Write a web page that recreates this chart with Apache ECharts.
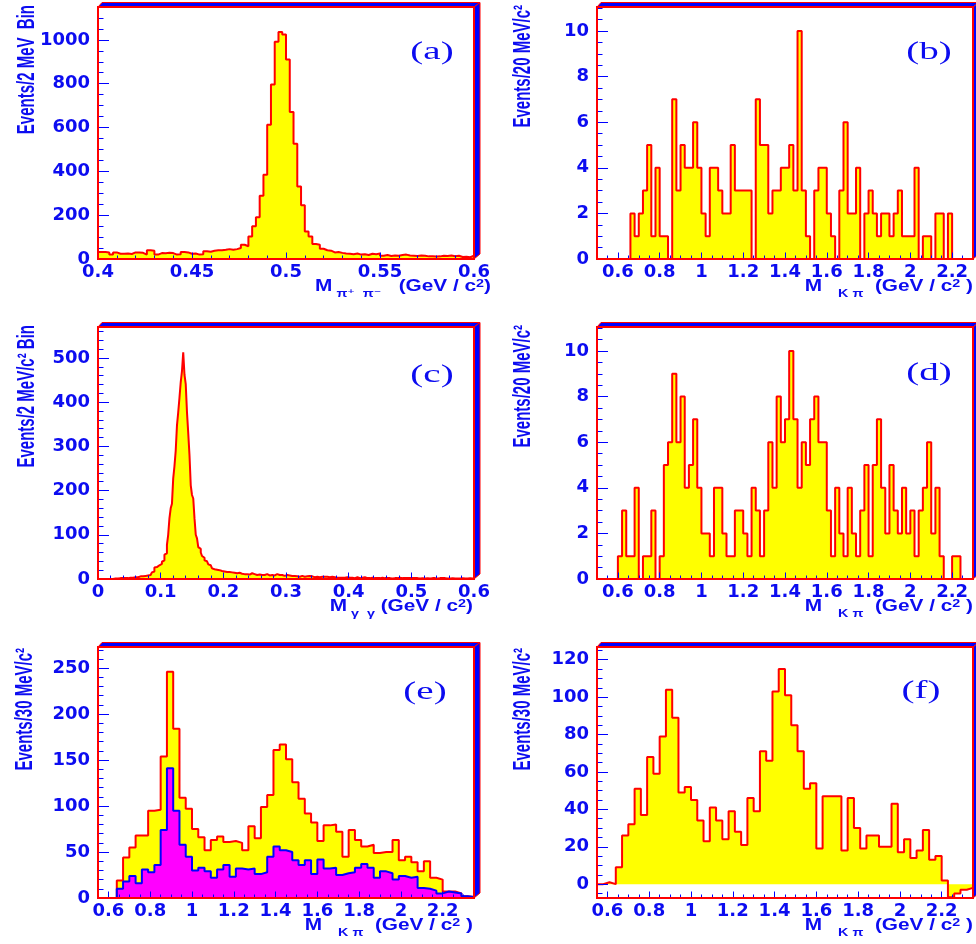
<!DOCTYPE html>
<html>
<head>
<meta charset="utf-8">
<title>Invariant mass distributions</title>
<script src="https://cdn.jsdelivr.net/npm/echarts@6.0.0/dist/echarts.min.js"></script>
<style>
html,body{margin:0;padding:0;background:#ffffff;}
#chart{width:976px;height:944px;}
</style>
</head>
<body>
<div id="chart"></div>
<script>
// ---------------- data ----------------
// (a) M(pi+ pi-), 2 MeV bins
const ksBinStart = 0.400, ksBinWidth = 0.002;
const ksCounts = [
  32,32,30,20,30,24,24,25,23,30,
  30,28,20,40,38,20,27,26,28,27,
  20,22,32,30,24,25,20,22,35,33,
  38,40,40,42,45,42,45,50,65,58,
  103,149,190,289,385,613,796,991,1036,1024,
  910,671,526,331,245,126,103,68,65,47,
  40,38,30,32,28,25,24,22,25,20,
  22,18,24,22,25,15,18,14,16,15,
  18,20,16,15,14,16,15,12,13,11,
  12,15,14,16,13,15,9,10,8,15
];
// (c) M(gamma gamma), 2 MeV bins
const pi0BinStart = 0.000, pi0BinWidth = 0.002;
const pi0Counts = [
  0,0,0,0,0,0,0,0,0,0,
  1,0,1,1,1,1,1,2,1,2,
  2,2,3,2,3,3,4,3,4,4,
  5,4,5,6,5,6,6,7,7,8,
  9,9,10,15,17,26,27,29,31,32,
  34,39,42,55,58,77,100,137,160,170,
  227,255,290,347,377,410,445,470,513,462,
  441,377,330,280,212,190,182,137,100,92,
  72,68,60,52,48,42,40,37,33,31,
  27,24,22,22,21,20,20,19,18,19,
  17,17,16,15,16,14,15,13,14,15,
  13,12,14,13,12,13,11,12,11,12,
  10,11,13,10,11,10,9,11,10,12,
  9,10,9,10,11,9,8,10,9,9,
  8,10,11,8,9,7,9,8,7,8,
  9,7,8,6,7,8,7,7,6,7,
  5,6,7,6,5,6,6,5,7,5,
  6,5,4,6,5,5,4,6,5,4,
  5,4,5,5,4,3,5,4,4,4,
  3,4,3,5,3,4,3,3,4,2,
  3,4,3,3,2,3,4,3,2,3,
  3,2,4,3,2,3,2,3,3,2,
  2,3,2,3,2,2,3,2,2,1,
  2,3,2,2,1,2,2,3,2,2,
  3,2,2,3,2,1,2,3,2,2,
  2,1,2,3,2,2,1,2,2,2,
  1,2,2,3,1,2,2,1,2,2,
  1,2,2,1,2,1,2,2,1,2,
  1,1,2,2,1,2,1,2,1,1,
  2,1,1,2,1,1,2,1,1,1
];
// (b) M(K pi), 20 MeV bins
const kpiBinWidth20 = 0.02;
const kpiBStart = 0.66;
const kpiBCounts = [
  2,1,2,3,5,1,4,1,1,0,
  7,3,5,4,4,6,4,2,1,4,
  4,3,2,2,5,3,3,3,3,0,
  7,5,5,2,3,3,4,4,5,3,
  10,3,1,0,3,4,4,2,1,0,
  3,6,2,2,4,0,2,3,2,1,
  2,2,1,2,3,1,1,1,4,0,
  1,1,0,2,2,0,2
];
// (d) M(K pi), 20 MeV bins
const kpiDStart = 0.60;
const kpiDCounts = [
  1,3,1,1,4,0,1,1,3,0,
  1,5,6,9,6,8,4,5,7,4,
  2,2,1,4,4,2,1,1,3,3,
  2,1,4,3,1,3,6,4,8,6,
  7,10,7,4,6,5,7,8,6,6,
  3,1,4,2,1,4,2,1,3,5,
  1,5,7,4,2,5,3,2,4,2,
  3,1,3,4,6,2,4,1,0,0,
  1,1
];
// (e) M(K pi), 30 MeV bins: total (yellow) and second sample (magenta)
const kpiBinWidth30 = 0.03;
const kpiEStart = 0.64;
const kpiETotal = [
  19,44,55,68,68,95,96,154,246,184,
  109,97,75,66,52,63,67,61,62,60,
  52,78,65,99,112,161,167,151,126,108,
  92,82,62,79,80,72,45,74,63,56,
  58,49,50,50,63,41,45,39,29,40,
  22,20,7,7,5,2,1
];
const kpiEOther = [
  10,18,24,16,31,28,36,74,141,95,
  58,45,30,33,29,22,31,36,23,32,
  31,32,26,28,45,56,52,50,41,36,
  41,26,42,32,33,25,27,28,33,37,
  33,22,29,27,20,24,22,23,11,10,
  8,5,7,6,5,2,1
];
// (f) M(K pi), 30 MeV bins (background subtracted)
const kpiFStart = 0.55;
const kpiFCounts = [
  0,1,0,9,26,32,51,37,68,59,
  79,104,89,49,52,45,34,23,41,34,
  24,39,28,21,46,39,71,66,103,115,
  101,85,71,51,54,19,47,47,47,18,
  46,30,19,26,26,20,20,43,17,24,
  14,18,29,13,15,2,-7,-5,-3,-2
];

// tick labels
const xTicksKs  = [0.4, 0.45, 0.5, 0.55, 0.6];
const yTicksKs  = [0, 200, 400, 600, 800, 1000];
const xTicksPi0 = [0, 0.1, 0.2, 0.3, 0.4, 0.5, 0.6];
const yTicksPi0 = [0, 100, 200, 300, 400, 500];
const xTicksKpi = [0.6, 0.8, 1, 1.2, 1.4, 1.6, 1.8, 2, 2.2];
const yTicks20  = [0, 2, 4, 6, 8, 10];
const yTicksE   = [0, 50, 100, 150, 200, 250];
const yTicksF   = [0, 20, 40, 60, 80, 100, 120];

// ---------------- styles ----------------
const RED = '#ff0000', YELLOW = '#ffff00', MAGENTA = '#ff00ff';
const FRAME_BLUE = '#0000ff', TICK = '#0000ff', TEXT = '#0c0cf0';
const SANS = '"Liberation Sans", "DejaVu Sans", sans-serif';

const kpiTitle = '{m|M}{s|    K π}{u|  (GeV / c}{p|2}{u| )}';

const panels = [
  {left: 98, top: 7, width: 376, height: 252, xRange: [0.4, 0.6], yRange: [0, 1150],
   xTicks: xTicksKs, yTicks: yTicksKs, xMinorStep: 0.01, yMinorStep: 50,
   hists: [{start: ksBinStart, width: ksBinWidth, counts: ksCounts, line: RED, fill: YELLOW}],
   yTitle: 'Events/2 MeV  Bin', yTitleAt: [27, 5],
   xTitle: '{m|M}{s| π⁺  π⁻}{u|   (GeV / c}{p|2}{u|)}', xTitleRight: 491,
   label: '(a)', labelAt: [432, 52]},
  {left: 597, top: 7, width: 376, height: 252, xRange: [0.5, 2.3], yRange: [0, 11.05],
   xTicks: xTicksKpi, yTicks: yTicks20, xMinorStep: 0.05, yMinorStep: 0.5,
   hists: [{start: kpiBStart, width: kpiBinWidth20, counts: kpiBCounts, line: RED, fill: YELLOW}],
   yTitle: 'Events/20 MeV/c²', yTitleAt: [523, 5],
   xTitle: kpiTitle, xTitleRight: 973,
   label: '(b)', labelAt: [929, 52]},
  {left: 98, top: 327, width: 376, height: 252, xRange: [0, 0.6], yRange: [0, 570],
   xTicks: xTicksPi0, yTicks: yTicksPi0, xMinorStep: 0.02, yMinorStep: 20,
   hists: [{start: pi0BinStart, width: pi0BinWidth, counts: pi0Counts, line: RED, fill: YELLOW}],
   yTitle: 'Events/2 MeV/c² Bin', yTitleAt: [27, 325],
   xTitle: '{m|M}{s| γ  γ}{u| (GeV / c}{p|2}{u|)}', xTitleRight: 473,
   label: '(c)', labelAt: [432, 375]},
  {left: 597, top: 327, width: 376, height: 252, xRange: [0.5, 2.3], yRange: [0, 11.05],
   xTicks: xTicksKpi, yTicks: yTicks20, xMinorStep: 0.05, yMinorStep: 0.5,
   hists: [{start: kpiDStart, width: kpiBinWidth20, counts: kpiDCounts, line: RED, fill: YELLOW}],
   yTitle: 'Events/20 MeV/c²', yTitleAt: [523, 325],
   xTitle: kpiTitle, xTitleRight: 973,
   label: '(d)', labelAt: [929, 373]},
  {left: 98, top: 647, width: 376, height: 251, xRange: [0.55, 2.35], yRange: [0, 273],
   xTicks: xTicksKpi, yTicks: yTicksE, xMinorStep: 0.05, yMinorStep: 10,
   hists: [{start: kpiEStart, width: kpiBinWidth30, counts: kpiETotal, line: RED, fill: YELLOW},
           {start: kpiEStart, width: kpiBinWidth30, counts: kpiEOther, line: FRAME_BLUE, fill: MAGENTA}],
   yTitle: 'Events/30 MeV/c²', yTitleAt: [25, 648],
   xTitle: kpiTitle, xTitleRight: 473,
   label: '(e)', labelAt: [425, 692]},
  {left: 597, top: 647, width: 376, height: 251, xRange: [0.55, 2.35], yRange: [-7.4, 126.8],
   xTicks: xTicksKpi, yTicks: yTicksF, xMinorStep: 0.05, yMinorStep: 5,
   hists: [{start: kpiFStart, width: kpiBinWidth30, counts: kpiFCounts, line: RED, fill: YELLOW}],
   yTitle: 'Events/30 MeV/c²', yTitleAt: [523, 648],
   xTitle: kpiTitle, xTitleRight: 973,
   label: '(f)', labelAt: [921, 691]}
];

// ---------------- helpers ----------------
function stepPoints(start, width, counts, xMin, xMax) {
  const pts = [[xMin, 0], [start, 0]];
  counts.forEach((c, i) => pts.push([+(start + i * width).toFixed(6), c]));
  pts.push([+(start + counts.length * width).toFixed(6), 0]);
  pts.push([xMax, 0]);
  return pts;
}
function minorTicks(min, max, step) {
  const out = [];
  const first = Math.ceil(min / step - 1e-9);
  for (let k = first; k * step <= max + 1e-9; k++) out.push(+(k * step).toFixed(6));
  return out;
}
const plainNumber = v => String(+(+v).toFixed(6));

const richX = {
  m: {fontFamily: SANS, fontWeight: 'bold', fontSize: 16, lineHeight: 18, verticalAlign: 'top', fill: TEXT},
  u: {fontFamily: SANS, fontWeight: 'bold', fontSize: 16, lineHeight: 18, verticalAlign: 'top', fill: TEXT},
  s: {fontFamily: SANS, fontWeight: 'bold', fontSize: 11, lineHeight: 11, padding: [10, 0, 0, 0], verticalAlign: 'top', fill: TEXT},
  p: {fontFamily: SANS, fontWeight: 'bold', fontSize: 11, lineHeight: 11, verticalAlign: 'top', fill: TEXT}
};

const grid = [], xAxis = [], yAxis = [], series = [], graphic = [];
panels.forEach((p, i) => {
  const L = p.left, T = p.top, R = p.left + p.width, B = p.top + p.height;
  grid.push({left: L, top: T, width: p.width, height: p.height, show: false});
  const common = {gridIndex: i, type: 'value', axisLine: {show: false, onZero: false}, splitLine: {show: false}, z: 10};
  const labelStyle = {color: TEXT, fontFamily: '"DejaVu Sans", sans-serif', fontWeight: 'bold', fontSize: 18,
                      formatter: plainNumber};
  xAxis.push(Object.assign({}, common, {
    min: p.xRange[0], max: p.xRange[1], position: 'bottom',
    axisTick: {show: true, inside: true, length: 6.5, lineStyle: {color: TICK, width: 1}, customValues: p.xTicks},
    axisLabel: Object.assign({show: true, customValues: p.xTicks, margin: 4}, labelStyle)
  }));
  xAxis.push(Object.assign({}, common, {
    min: p.xRange[0], max: p.xRange[1], position: 'bottom',
    axisTick: {show: true, inside: true, length: 3.5, lineStyle: {color: TICK, width: 1},
               customValues: minorTicks(p.xRange[0], p.xRange[1], p.xMinorStep)},
    axisLabel: {show: false}
  }));
  yAxis.push(Object.assign({}, common, {
    min: p.yRange[0], max: p.yRange[1], position: 'left',
    axisTick: {show: true, inside: true, length: 11, lineStyle: {color: TICK, width: 1}, customValues: p.yTicks},
    axisLabel: Object.assign({show: true, customValues: p.yTicks, margin: 8}, labelStyle)
  }));
  yAxis.push(Object.assign({}, common, {
    min: p.yRange[0], max: p.yRange[1], position: 'left',
    axisTick: {show: true, inside: true, length: 5.5, lineStyle: {color: TICK, width: 1},
               customValues: minorTicks(p.yRange[0], p.yRange[1], p.yMinorStep)},
    axisLabel: {show: false}
  }));
  p.hists.forEach(h => {
    series.push({
      type: 'line', xAxisIndex: 2 * i, yAxisIndex: 2 * i,
      data: stepPoints(h.start, h.width, h.counts, p.xRange[0], p.xRange[1]),
      step: 'end', symbol: 'none', showSymbol: false, silent: true,
      lineStyle: {color: h.line, width: 2},
      areaStyle: {color: h.fill, opacity: 1},
      z: 2
    });
  });
  // 3D frame faces + frame
  graphic.push({type: 'polygon', z: 100, silent: true,
    shape: {points: [[L, T], [L + 4, T - 4.5], [R + 6, T - 4.5], [R, T]]},
    style: {fill: FRAME_BLUE, stroke: RED, lineWidth: 1}});
  graphic.push({type: 'polygon', z: 100, silent: true,
    shape: {points: [[R, T], [R + 6, T - 4.5], [R + 6, B - 5], [R, B]]},
    style: {fill: FRAME_BLUE, stroke: RED, lineWidth: 1}});
  graphic.push({type: 'rect', z: 101, silent: true,
    shape: {x: L, y: T, width: p.width, height: p.height},
    style: {fill: 'none', stroke: RED, lineWidth: 2}});
  // titles
  graphic.push({type: 'text', z: 102, silent: true, x: p.xTitleRight, y: B + 28.5, scaleX: 1.3,
    style: {text: p.xTitle, rich: richX, align: 'right', verticalAlign: 'middle', fill: TEXT,
            font: 'bold 16px ' + SANS}});
  graphic.push({type: 'text', z: 102, silent: true, x: p.yTitleAt[0], y: p.yTitleAt[1],
    rotation: Math.PI / 2, scaleY: 1.65,
    style: {text: p.yTitle, fill: TEXT, font: 'bold 15px ' + SANS, align: 'right', verticalAlign: 'middle'}});
  graphic.push({type: 'text', z: 102, silent: true, x: p.labelAt[0], y: p.labelAt[1], scaleX: 1.5,
    style: {text: p.label, fill: TEXT, font: '26px "Liberation Serif", serif', align: 'center', verticalAlign: 'middle'}});
});

const chart = echarts.init(document.getElementById('chart'), null, {renderer: 'canvas'});
chart.setOption({
  animation: false,
  backgroundColor: '#ffffff',
  grid, xAxis, yAxis, series, graphic
});
</script>
</body>
</html>
